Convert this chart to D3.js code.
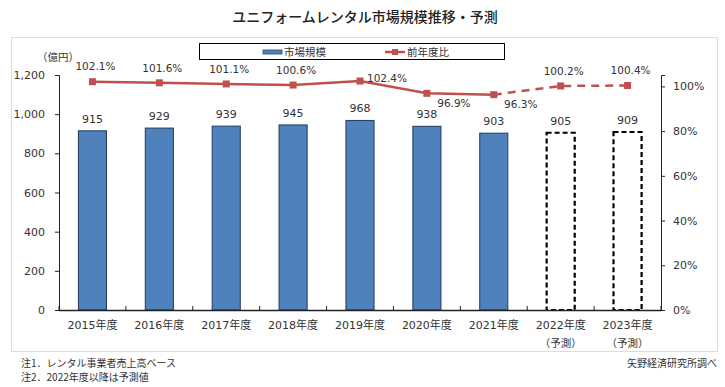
<!DOCTYPE html>
<html>
<head>
<meta charset="utf-8">
<script src="https://d3js.org/d3.v7.min.js"></script>
<style>
  body { margin: 0; background: #fff; }
  text { font-family: "DejaVu Sans", "Noto Sans CJK JP", sans-serif; fill: #333; }
  .jp { font-family: "Noto Sans CJK JP", sans-serif; }
</style>
</head>
<body>
<svg id="chart" width="725" height="387"></svg>
<script>
// data
const years = ["2015年度", "2016年度", "2017年度", "2018年度", "2019年度", "2020年度", "2021年度", "2022年度", "2023年度"];
const subLabels = ["", "", "", "", "", "", "", "（予測）", "（予測）"];
const marketSize = [915, 929, 939, 945, 968, 938, 903, 905, 909];
const yoyRatio = [102.1, 101.6, 101.1, 100.6, 102.4, 96.9, 96.3, 100.2, 100.4];
const isForecast = [false, false, false, false, false, false, false, true, true];
const leftTicks = [0, 200, 400, 600, 800, 1000, 1200];
const rightTicks = [0, 20, 40, 60, 80, 100];
// where each % label sits relative to its point
const labelSide = ["above", "above", "above", "above", "right", "belowRight", "belowRight", "above", "above"];

const svg = d3.select("#chart");
const plotL = 59, plotR = 661, plotT = 75, plotB = 310;

const x = d3.scaleBand().domain(years).range([plotL, plotR]).paddingInner(0.58).paddingOuter(0.29);
const y = d3.scaleLinear().domain([0, 1200]).range([plotB, plotT]);
const y2 = d3.scaleLinear().domain([0, 105.1]).range([plotB, plotT]);

// title
svg.append("text").attr("class", "jp").attr("x", 365).attr("y", 22)
  .attr("text-anchor", "middle").attr("font-size", 14).attr("font-weight", 500)
  .style("fill", "#222").text("ユニフォームレンタル市場規模推移・予測");

// outer frame
svg.append("rect").attr("x", 11.5).attr("y", 37.5).attr("width", 706).attr("height", 314)
  .attr("fill", "none").attr("stroke", "#dcdcdc");

// legend
const lg = svg.append("g");
lg.append("rect").attr("x", 199.5).attr("y", 43.5).attr("width", 305).attr("height", 16)
  .attr("fill", "#fff").attr("stroke", "#000");
lg.append("rect").attr("x", 263).attr("y", 50).attr("width", 19).attr("height", 4)
  .attr("fill", "#4f81bd").attr("stroke", "#2c4d75").attr("stroke-width", 0.8);
lg.append("text").attr("class", "jp").attr("x", 284).attr("y", 52).attr("dy", "0.35em")
  .attr("font-size", 10.5).text("市場規模");
lg.append("line").attr("x1", 385).attr("x2", 405).attr("y1", 52).attr("y2", 52)
  .attr("stroke", "#c0504d").attr("stroke-width", 2.5);
lg.append("rect").attr("x", 392).attr("y", 49).attr("width", 6).attr("height", 6).attr("fill", "#c0504d");
lg.append("text").attr("class", "jp").attr("x", 407).attr("y", 52).attr("dy", "0.35em")
  .attr("font-size", 10.5).text("前年度比");

// unit
svg.append("text").attr("class", "jp").attr("x", 58).attr("y", 57).attr("dy", "0.35em")
  .attr("text-anchor", "middle").attr("font-size", 10.5).text("（億円）");

// left axis
const ax = svg.append("g").attr("transform", `translate(${plotL},0)`)
  .call(d3.axisLeft(y).tickValues(leftTicks).tickSize(4).tickPadding(10).tickFormat(d3.format(",")));
ax.select(".domain").attr("stroke", "#222");
ax.selectAll(".tick line").attr("stroke", "#222");
ax.selectAll("text").attr("font-size", 11).style("font-family", "DejaVu Sans").style("fill", "#333");

// right axis
const ax2 = svg.append("g").attr("transform", `translate(${plotR},0)`)
  .call(d3.axisRight(y2).tickValues(rightTicks).tickSize(4).tickPadding(8).tickFormat(d => d + "%"));
ax2.select(".domain").attr("stroke", "#222");
ax2.selectAll(".tick line").attr("stroke", "#222");
ax2.selectAll("text").attr("font-size", 11).style("font-family", "DejaVu Sans").style("fill", "#333");

// bars
svg.append("g").selectAll("rect").data(marketSize).join("rect")
  .attr("x", (d, i) => x(years[i]))
  .attr("y", d => y(d))
  .attr("width", x.bandwidth())
  .attr("height", d => y(0) - y(d))
  .attr("fill", (d, i) => isForecast[i] ? "#fff" : "#4f81bd")
  .attr("stroke", (d, i) => isForecast[i] ? "#000" : "#1f3b5c")
  .attr("stroke-width", (d, i) => isForecast[i] ? 2.2 : 1)
  .attr("stroke-dasharray", (d, i) => isForecast[i] ? "5,3" : null);

// bar value labels
svg.append("g").selectAll("text").data(marketSize).join("text")
  .attr("x", (d, i) => x(years[i]) + x.bandwidth() / 2)
  .attr("y", d => y(d) - 8)
  .attr("text-anchor", "middle").attr("font-size", 11).text(d => d);

// bottom axis
const step = x.step();
const bx = svg.append("g");
bx.append("line").attr("x1", plotL).attr("x2", plotR).attr("y1", plotB + 0.5).attr("y2", plotB + 0.5)
  .attr("stroke", "#222").attr("stroke-width", 1.5);
bx.selectAll("line.tk").data(d3.range(years.length + 1)).join("line").attr("class", "tk")
  .attr("x1", i => plotL + i * step).attr("x2", i => plotL + i * step)
  .attr("y1", plotB).attr("y2", plotB - 4).attr("stroke", "#222");
bx.selectAll("text.yr").data(years).join("text").attr("class", "yr")
  .attr("x", d => x(d) + x.bandwidth() / 2).attr("y", 325).attr("dy", "0.35em")
  .attr("text-anchor", "middle").attr("font-size", 11).text(d => d);
bx.selectAll("text.sub").data(subLabels).join("text").attr("class", "sub jp")
  .attr("x", (d, i) => x(years[i]) + x.bandwidth() / 2).attr("y", 343).attr("dy", "0.35em")
  .attr("text-anchor", "middle").attr("font-size", 10.5).text(d => d);

// line
const cx = i => x(years[i]) + x.bandwidth() / 2;
const pts = yoyRatio.map((v, i) => [cx(i), y2(v)]);
const lastActual = isForecast.indexOf(true) - 1;
const line = d3.line();
svg.append("path").attr("d", line(pts.slice(0, lastActual + 1)))
  .attr("fill", "none").attr("stroke", "#c0504d").attr("stroke-width", 2.5);
svg.append("path").attr("d", line(pts.slice(lastActual)))
  .attr("fill", "none").attr("stroke", "#c0504d").attr("stroke-width", 2.5)
  .attr("stroke-dasharray", "8,6");
svg.append("g").selectAll("rect").data(pts).join("rect")
  .attr("x", d => d[0] - 3.5).attr("y", d => d[1] - 3.5)
  .attr("width", 7).attr("height", 7).attr("fill", "#c0504d");

// % labels
const off = {
  above: [3, -15],
  right: [27, -3],
  belowRight: [27, 10]
};
svg.append("g").selectAll("text").data(yoyRatio).join("text")
  .attr("x", (d, i) => pts[i][0] + off[labelSide[i]][0])
  .attr("y", (d, i) => pts[i][1] + off[labelSide[i]][1])
  .attr("dy", "0.35em").attr("text-anchor", "middle").attr("font-size", 10.5)
  .text(d => d.toFixed(1) + "%");

// notes
svg.append("text").attr("class", "jp").attr("x", 21).attr("y", 363).attr("dy", "0.35em")
  .attr("font-size", 10).text("注1．レンタル事業者売上高ベース");
svg.append("text").attr("class", "jp").attr("x", 21).attr("y", 377).attr("dy", "0.35em")
  .attr("font-size", 10).text("注2．2022年度以降は予測値");
svg.append("text").attr("class", "jp").attr("x", 717).attr("y", 363).attr("dy", "0.35em")
  .attr("text-anchor", "end").attr("font-size", 10).text("矢野経済研究所調べ");
</script>
</body>
</html>
